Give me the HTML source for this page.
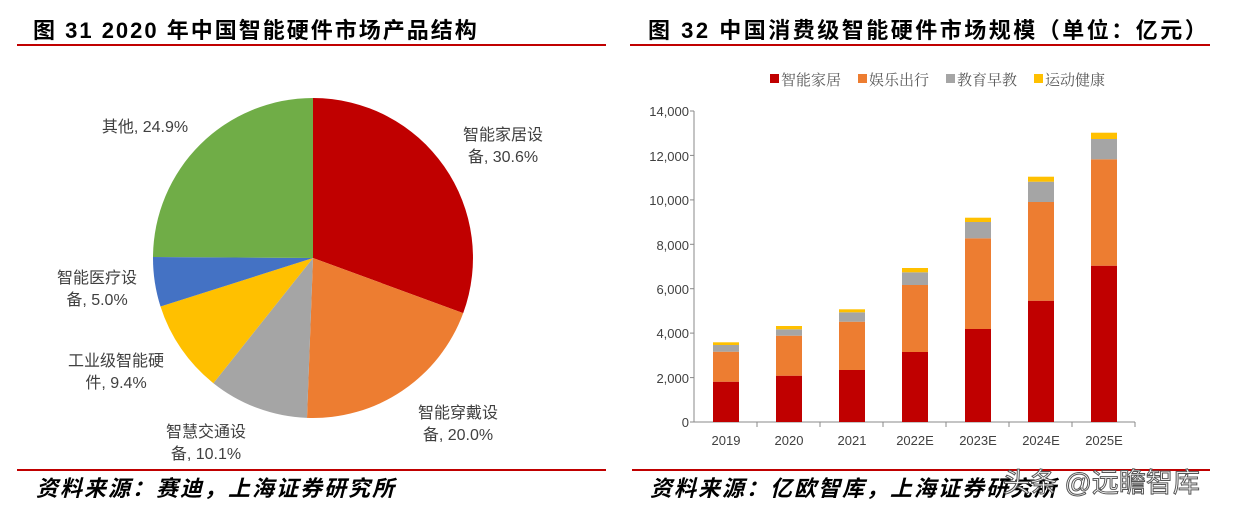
<!DOCTYPE html>
<html><head><meta charset="utf-8"><style>
html,body{margin:0;padding:0;background:#fff;}
svg{display:block;}
</style></head><body>
<svg width="1237" height="508" xmlns="http://www.w3.org/2000/svg" font-family="Liberation Sans, Noto Sans CJK SC, sans-serif">
<rect width="1237" height="508" fill="#fff"/>
<!-- titles -->
<text x="33" y="38" font-size="22" font-weight="bold" letter-spacing="2" fill="#000">图 31 2020 年中国智能硬件市场产品结构</text>
<line x1="17" y1="45" x2="606" y2="45" stroke="#C00000" stroke-width="2"/>
<text x="648" y="38" font-size="22" font-weight="bold" letter-spacing="2.5" fill="#000">图 32 中国消费级智能硬件市场规模（单位：亿元）</text>
<line x1="630" y1="45" x2="1210" y2="45" stroke="#C00000" stroke-width="2"/>
<!-- pie -->
<g stroke="none">
<path d="M313,258 L313,98 A160,160 0 0 1 463.2,313.1 Z" fill="#C00000"/>
<path d="M313,258 L463.2,313.1 A160,160 0 0 1 307,417.9 Z" fill="#ED7D31"/>
<path d="M313,258 L307,417.9 A160,160 0 0 1 213.4,383.2 Z" fill="#A5A5A5"/>
<path d="M313,258 L213.4,383.2 A160,160 0 0 1 160.5,306.5 Z" fill="#FFC000"/>
<path d="M313,258 L160.5,306.5 A160,160 0 0 1 153,257 Z" fill="#4472C4"/>
<path d="M313,258 L153,257 A160,160 0 0 1 313,98 Z" fill="#70AD47"/>
</g>
<g font-size="16" fill="#404040" text-anchor="middle">
<text x="503" y="140">智能家居设</text><text x="503" y="162">备, 30.6%</text>
<text x="145" y="132">其他, 24.9%</text>
<text x="97" y="283">智能医疗设</text><text x="97" y="305">备, 5.0%</text>
<text x="116" y="366">工业级智能硬</text><text x="116" y="388">件, 9.4%</text>
<text x="206" y="437">智慧交通设</text><text x="206" y="459">备, 10.1%</text>
<text x="458" y="418">智能穿戴设</text><text x="458" y="440">备, 20.0%</text>
</g>
<!-- legend -->
<g font-size="15" fill="#595959" font-family="Liberation Serif, Noto Serif CJK SC, serif">
<rect x="770" y="74" width="9" height="9" fill="#C00000"/><text x="781" y="85">智能家居</text>
<rect x="858" y="74" width="9" height="9" fill="#ED7D31"/><text x="869" y="85">娱乐出行</text>
<rect x="946" y="74" width="9" height="9" fill="#A5A5A5"/><text x="957" y="85">教育早教</text>
<rect x="1034" y="74" width="9" height="9" fill="#FFC000"/><text x="1045" y="85">运动健康</text>
</g>
<!-- axes -->
<g font-size="13" fill="#404040" text-anchor="end">
<text x="689" y="427">0</text>
<text x="689" y="383">2,000</text>
<text x="689" y="338">4,000</text>
<text x="689" y="294">6,000</text>
<text x="689" y="250">8,000</text>
<text x="689" y="205">10,000</text>
<text x="689" y="161">12,000</text>
<text x="689" y="116">14,000</text>
</g>
<line x1="694" y1="111" x2="694" y2="422" stroke="#888" stroke-width="1"/>
<g stroke="#888" stroke-width="1">
<line x1="690" y1="111" x2="694" y2="111"/><line x1="690" y1="155.4" x2="694" y2="155.4"/>
<line x1="690" y1="199.9" x2="694" y2="199.9"/><line x1="690" y1="244.3" x2="694" y2="244.3"/>
<line x1="690" y1="288.7" x2="694" y2="288.7"/><line x1="690" y1="333.1" x2="694" y2="333.1"/>
<line x1="690" y1="377.6" x2="694" y2="377.6"/><line x1="690" y1="422" x2="694" y2="422"/>
<line x1="694" y1="422" x2="1135" y2="422"/>
<line x1="757" y1="422" x2="757" y2="427"/><line x1="820" y1="422" x2="820" y2="427"/>
<line x1="883" y1="422" x2="883" y2="427"/><line x1="946" y1="422" x2="946" y2="427"/>
<line x1="1009" y1="422" x2="1009" y2="427"/><line x1="1072" y1="422" x2="1072" y2="427"/>
<line x1="1135" y1="422" x2="1135" y2="427"/>
</g>
<g font-size="13" fill="#404040" text-anchor="middle">
<text x="726" y="445">2019</text><text x="789" y="445">2020</text><text x="852" y="445">2021</text>
<text x="915" y="445">2022E</text><text x="978" y="445">2023E</text><text x="1041" y="445">2024E</text><text x="1104" y="445">2025E</text>
</g>
<g>
<rect x="713" y="381.7" width="26" height="40.3" fill="#C00000"/>
<rect x="713" y="351.7" width="26" height="30" fill="#ED7D31"/>
<rect x="713" y="345" width="26" height="6.7" fill="#A5A5A5"/>
<rect x="713" y="342.3" width="26" height="2.7" fill="#FFC000"/>
<rect x="776" y="375.7" width="26" height="46.3" fill="#C00000"/>
<rect x="776" y="335.7" width="26" height="40" fill="#ED7D31"/>
<rect x="776" y="329.3" width="26" height="6.4" fill="#A5A5A5"/>
<rect x="776" y="326" width="26" height="3.3" fill="#FFC000"/>
<rect x="839" y="370" width="26" height="52" fill="#C00000"/>
<rect x="839" y="321.7" width="26" height="48.3" fill="#ED7D31"/>
<rect x="839" y="312.3" width="26" height="9.4" fill="#A5A5A5"/>
<rect x="839" y="309.3" width="26" height="3" fill="#FFC000"/>
<rect x="902" y="352" width="26" height="70" fill="#C00000"/>
<rect x="902" y="285" width="26" height="67" fill="#ED7D31"/>
<rect x="902" y="272.3" width="26" height="12.7" fill="#A5A5A5"/>
<rect x="902" y="268" width="26" height="4.3" fill="#FFC000"/>
<rect x="965" y="329" width="26" height="93" fill="#C00000"/>
<rect x="965" y="238.3" width="26" height="90.7" fill="#ED7D31"/>
<rect x="965" y="222" width="26" height="16.3" fill="#A5A5A5"/>
<rect x="965" y="217.7" width="26" height="4.3" fill="#FFC000"/>
<rect x="1028" y="300.7" width="26" height="121.3" fill="#C00000"/>
<rect x="1028" y="202" width="26" height="98.7" fill="#ED7D31"/>
<rect x="1028" y="181.7" width="26" height="20.3" fill="#A5A5A5"/>
<rect x="1028" y="176.7" width="26" height="5" fill="#FFC000"/>
<rect x="1091" y="265.7" width="26" height="156.3" fill="#C00000"/>
<rect x="1091" y="159.3" width="26" height="106.4" fill="#ED7D31"/>
<rect x="1091" y="139" width="26" height="20.3" fill="#A5A5A5"/>
<rect x="1091" y="132.7" width="26" height="6.3" fill="#FFC000"/>
</g>
<!-- footers -->
<line x1="17" y1="470" x2="606" y2="470" stroke="#C00000" stroke-width="2"/>
<line x1="632" y1="470" x2="1210" y2="470" stroke="#C00000" stroke-width="2"/>
<text x="36" y="496" font-size="22" font-weight="bold" font-style="italic" letter-spacing="2" fill="#000">资料来源：赛迪，上海证券研究所</text>
<text x="650" y="496" font-size="22" font-weight="bold" font-style="italic" letter-spacing="2" fill="#000">资料来源：亿欧智库，上海证券研究所</text>
<text x="1003" y="492" font-size="27" fill="#fff" stroke="#555" stroke-width="1">头条 @远瞻智库</text>
</svg>
</body></html>
